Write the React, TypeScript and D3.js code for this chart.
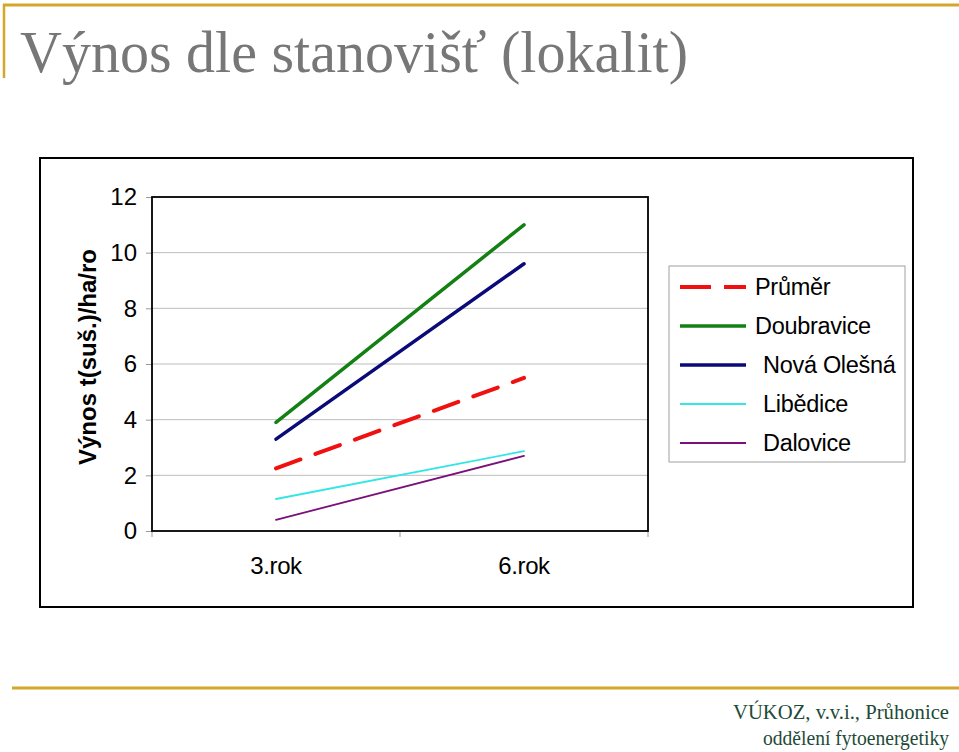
import React, { useEffect, useRef } from 'react';
import * as d3 from 'd3';

const categories = ['3.rok', '6.rok'];
const yTicks = [0, 2, 4, 6, 8, 10, 12];

const seriesNames = ['Průměr', 'Doubravice', 'Nová Olešná', 'Libědice', 'Dalovice'];
const prumer = [2.25, 5.5];
const doubravice = [3.9, 11.0];
const novaOlesna = [3.3, 9.6];
const libedice = [1.15, 2.87];
const dalovice = [0.4, 2.7];

const seriesStyles = [
  { color: '#f01010', width: 4, dash: '26 16', legendIndent: 0 },
  { color: '#138013', width: 3.5, dash: null, legendIndent: 0 },
  { color: '#0a0a78', width: 3.5, dash: null, legendIndent: 8 },
  { color: '#33e6e6', width: 1.8, dash: null, legendIndent: 8 },
  { color: '#7a107a', width: 1.8, dash: null, legendIndent: 8 },
];

const W = 959;
const H = 752;
const GOLD = '#d4a62a';

const App = () => {
  const svgRef = useRef<SVGSVGElement>(null);

  useEffect(() => {
    const svg = d3.select(svgRef.current);
    svg.selectAll('*').remove();

    const values = [prumer, doubravice, novaOlesna, libedice, dalovice];

    // slide decorations
    svg.append('rect').attr('width', W).attr('height', H).attr('fill', '#fff');
    svg.append('line').attr('x1', 3).attr('x2', W).attr('y1', 5).attr('y2', 5)
      .attr('stroke', GOLD).attr('stroke-width', 3);
    svg.append('line').attr('x1', 4).attr('x2', 4).attr('y1', 4).attr('y2', 78)
      .attr('stroke', GOLD).attr('stroke-width', 2.5);
    svg.append('line').attr('x1', 12).attr('x2', W).attr('y1', 688).attr('y2', 688)
      .attr('stroke', GOLD).attr('stroke-width', 3);

    svg.append('text')
      .attr('x', 20).attr('y', 72)
      .attr('font-family', '"Liberation Serif", "DejaVu Serif", serif')
      .attr('font-size', 60)
      .attr('fill', '#777')
      .attr('textLength', 668)
      .attr('lengthAdjust', 'spacingAndGlyphs')
      .text('Výnos dle stanovišť (lokalit)');

    const footer = svg.append('g')
      .attr('font-family', '"Liberation Serif", serif')
      .attr('font-size', 20)
      .attr('fill', '#1d4a38')
      .attr('text-anchor', 'end');
    footer.append('text').attr('x', 949).attr('y', 719)
      .attr('textLength', 216).attr('lengthAdjust', 'spacingAndGlyphs')
      .text('VÚKOZ, v.v.i.,  Průhonice');
    footer.append('text').attr('x', 949).attr('y', 745)
      .attr('textLength', 186).attr('lengthAdjust', 'spacingAndGlyphs')
      .text('oddělení fytoenergetiky');

    // chart frame
    svg.append('rect')
      .attr('x', 40).attr('y', 158).attr('width', 873).attr('height', 449)
      .attr('fill', '#fff').attr('stroke', '#000').attr('stroke-width', 2);

    const plot = { left: 152, right: 648, top: 197, bottom: 531 };

    const x = d3.scaleBand().domain(categories).range([plot.left, plot.right]);
    const y = d3.scaleLinear().domain([0, 12]).range([plot.bottom, plot.top]);

    // gridlines
    svg.append('g')
      .selectAll('line')
      .data(yTicks.filter(t => t > 0 && t < 12))
      .join('line')
      .attr('x1', plot.left).attr('x2', plot.right)
      .attr('y1', d => y(d)).attr('y2', d => y(d))
      .attr('stroke', '#bdbdbd').attr('stroke-width', 1);

    // y axis
    const yAxis = svg.append('g')
      .attr('transform', `translate(${plot.left},0)`)
      .call(d3.axisLeft(y).tickValues(yTicks).tickSize(6).tickPadding(9));
    yAxis.select('.domain').remove();
    yAxis.selectAll('.tick line').attr('stroke', '#999');
    yAxis.selectAll('.tick text')
      .attr('font-family', '"Liberation Sans", Arial, sans-serif')
      .attr('font-size', 24)
      .attr('fill', '#000');

    // x axis
    const xAxis = svg.append('g')
      .attr('transform', `translate(0,${plot.bottom})`)
      .call(d3.axisBottom(x).tickSize(0).tickPadding(26));
    xAxis.select('.domain').remove();
    xAxis.selectAll('.tick text')
      .attr('font-family', '"Liberation Sans", Arial, sans-serif')
      .attr('font-size', 24)
      .attr('letter-spacing', -0.4)
      .attr('fill', '#000');
    svg.append('g')
      .selectAll('line')
      .data([plot.left, (plot.left + plot.right) / 2, plot.right])
      .join('line')
      .attr('x1', d => d).attr('x2', d => d)
      .attr('y1', plot.bottom).attr('y2', plot.bottom + 6)
      .attr('stroke', '#999');

    // plot border
    svg.append('rect')
      .attr('x', plot.left).attr('y', plot.top)
      .attr('width', plot.right - plot.left).attr('height', plot.bottom - plot.top)
      .attr('fill', 'none').attr('stroke', '#000').attr('stroke-width', 1.8);

    // y label
    svg.append('text')
      .attr('transform', `translate(96,357) rotate(-90)`)
      .attr('text-anchor', 'middle')
      .attr('font-family', '"Liberation Sans", Arial, sans-serif')
      .attr('font-weight', 'bold')
      .attr('font-size', 23)
      .attr('textLength', 216)
      .attr('lengthAdjust', 'spacingAndGlyphs')
      .text('Výnos t(suš.)/ha/ro');

    // lines
    const line = d3.line<number>()
      .x((_, i) => (x(categories[i]) as number) + x.bandwidth() / 2)
      .y(d => y(d));

    const order = [4, 3, 0, 2, 1];
    order.forEach(i => {
      const s = seriesStyles[i];
      svg.append('path')
        .datum(values[i])
        .attr('d', line)
        .attr('fill', 'none')
        .attr('stroke', s.color)
        .attr('stroke-width', s.width)
        .attr('stroke-dasharray', s.dash)
        .attr('stroke-linecap', 'round');
    });

    // legend
    svg.append('rect')
      .attr('x', 669).attr('y', 266).attr('width', 236).attr('height', 196)
      .attr('fill', '#fff').attr('stroke', '#a0a0a0').attr('stroke-width', 1);

    const legendY = d3.scalePoint().domain(seriesNames).range([287, 443]);
    const leg = svg.append('g');
    seriesNames.forEach((name, i) => {
      const s = seriesStyles[i];
      const ly = legendY(name) as number;
      leg.append('line')
        .attr('x1', 680).attr('x2', 746).attr('y1', ly).attr('y2', ly)
        .attr('stroke', s.color)
        .attr('stroke-width', s.width)
        .attr('stroke-dasharray', s.dash ? '31 13' : null);
      leg.append('text')
        .attr('x', 755 + s.legendIndent).attr('y', ly + 8)
        .attr('font-family', '"Liberation Sans", Arial, sans-serif')
        .attr('font-size', 23.5)
        .attr('letter-spacing', -0.3)
        .text(name);
    });
  }, []);

  return (
    <svg
      ref={svgRef}
      width={W}
      height={H}
      style={{ position: 'absolute', left: 0, top: 0, display: 'block' }}
    />
  );
};

export default App;
